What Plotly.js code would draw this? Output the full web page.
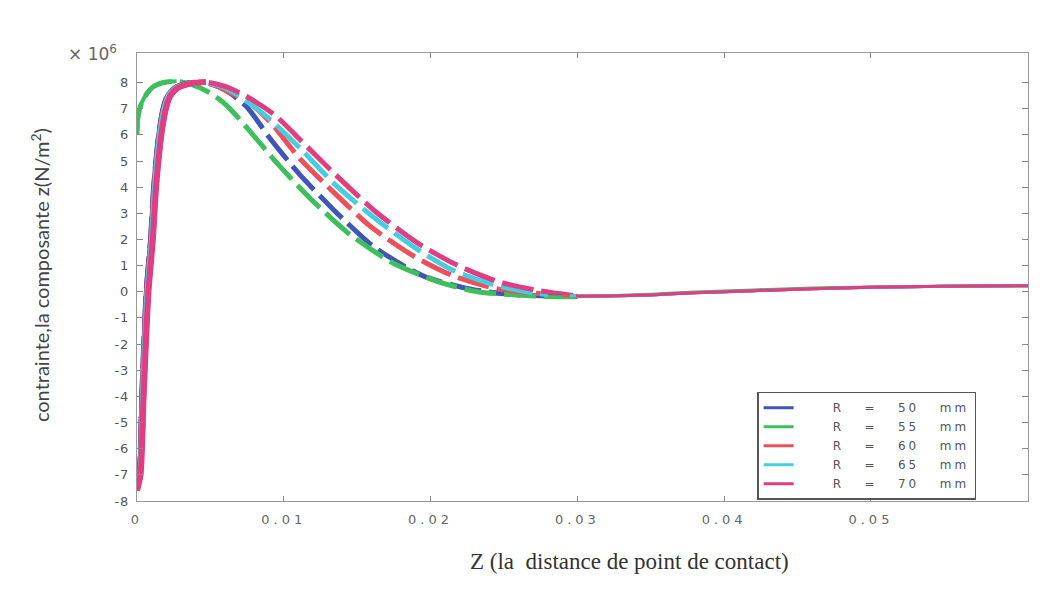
<!DOCTYPE html>
<html>
<head>
<meta charset="utf-8">
<script src="https://cdn.plot.ly/plotly-3.0.1.min.js"></script>
<style>
body{margin:0;background:#fff;}
.xtick text{letter-spacing:4px;}
.ytick text{letter-spacing:1px;}
.legendtext{letter-spacing:3px;}
</style>
</head>
<body>
<div id="chart" style="width:1062px;height:592px;"></div>
<script>
// Stress component z (x10^6 N/m^2) versus distance Z from contact point
const seriesNames = ["R = 50 mm", "R = 55 mm", "R = 60 mm", "R = 65 mm", "R = 70 mm"];
const seriesColors = ["#3f55b8", "#3dbf5c", "#ef4f58", "#45cde0", "#e23c82"];

const xR50 = [0, 0.00015, 0.00032, 0.00062, 0.00092, 0.00113, 0.00147, 0.00177, 0.00207, 0.00257, 0.0033, 0.0040, 0.0050, 0.0061, 0.0075, 0.0090, 0.0110, 0.0134, 0.0160, 0.0180, 0.0196, 0.0224, 0.0250, 0.0280, 0.0300, 0.0320, 0.0350, 0.0380, 0.0420, 0.0460, 0.0500, 0.0550, 0.0607];
const yR50 = [-7.5, -7.0, -4.0, 0.0, 2.0, 4.0, 6.0, 7.0, 7.5, 7.8, 7.97, 8.0, 7.95, 7.68, 7.06, 5.91, 4.54, 3.13, 1.78, 1.05, 0.58, 0.14, -0.08, -0.16, -0.18, -0.16, -0.12, -0.04, 0.04, 0.12, 0.17, 0.21, 0.23];

const xR55 = [0, 0.00007, 0.0003, 0.0007, 0.0011, 0.0018, 0.0027, 0.0036, 0.0049, 0.0061, 0.0076, 0.0096, 0.0118, 0.0144, 0.0174, 0.0205, 0.0232, 0.0256, 0.0280, 0.0300, 0.0320, 0.0350, 0.0380, 0.0420, 0.0460, 0.0500, 0.0550, 0.0607];
const yR55 = [6.0, 6.7, 7.2, 7.6, 7.84, 8.0, 8.05, 7.95, 7.63, 7.13, 6.20, 4.88, 3.57, 2.24, 1.11, 0.39, 0.0, -0.11, -0.18, -0.19, -0.15, -0.09, -0.01, 0.07, 0.14, 0.18, 0.21, 0.23];

const xR60 = [0, 0.00017, 0.00034, 0.00065, 0.00095, 0.00116, 0.0015, 0.0018, 0.0021, 0.0026, 0.0034, 0.0042, 0.0052, 0.0062, 0.0076, 0.0092, 0.0110, 0.0133, 0.0159, 0.0188, 0.0215, 0.0245, 0.0270, 0.0290, 0.0300, 0.0320, 0.0350, 0.0380, 0.0420, 0.0460, 0.0500, 0.0550, 0.0607];
const yR60 = [-7.5, -7.0, -4.0, 0.0, 2.0, 4.0, 6.0, 7.0, 7.5, 7.8, 7.97, 8.0, 7.92, 7.65, 7.25, 6.41, 5.15, 3.86, 2.50, 1.38, 0.62, 0.12, -0.05, -0.14, -0.17, -0.16, -0.12, -0.04, 0.04, 0.12, 0.17, 0.21, 0.23];

const xR65 = [0, 0.00018, 0.00036, 0.00067, 0.00097, 0.00118, 0.00152, 0.00183, 0.00213, 0.00263, 0.0035, 0.0044, 0.0055, 0.0068, 0.0089, 0.0111, 0.0135, 0.0161, 0.0190, 0.0215, 0.0245, 0.0273, 0.0295, 0.0320, 0.0350, 0.0380, 0.0420, 0.0460, 0.0500, 0.0550, 0.0607];
const yR65 = [-7.5, -7.0, -4.0, 0.0, 2.0, 4.0, 6.0, 7.0, 7.5, 7.8, 7.97, 8.0, 7.9, 7.55, 6.67, 5.49, 4.10, 2.86, 1.66, 0.83, 0.24, -0.07, -0.15, -0.16, -0.12, -0.04, 0.04, 0.12, 0.17, 0.21, 0.23];

const xR70 = [0, 0.00024, 0.00045, 0.00078, 0.00108, 0.0013, 0.00166, 0.00197, 0.00228, 0.0028, 0.0037, 0.0047, 0.0060, 0.0074, 0.0094, 0.0111, 0.0135, 0.0162, 0.0191, 0.0218, 0.0246, 0.0273, 0.0299, 0.0320, 0.0350, 0.0380, 0.0420, 0.0460, 0.0500, 0.0550, 0.0607];
const yR70 = [-7.6, -7.0, -4.0, 0.0, 2.0, 4.0, 6.0, 7.0, 7.5, 7.8, 7.97, 8.02, 7.85, 7.49, 6.75, 5.82, 4.49, 3.09, 1.87, 1.02, 0.39, 0.05, -0.16, -0.16, -0.12, -0.04, 0.04, 0.12, 0.17, 0.21, 0.23];

const xTickVals = [0, 0.01, 0.02, 0.03, 0.04, 0.05];
const xTickText = ["0", "0.01", "0.02", "0.03", "0.04", "0.05"];
const yTickVals = [-8, -7, -6, -5, -4, -3, -2, -1, 0, 1, 2, 3, 4, 5, 6, 7, 8];
const yTickText = ["-8", "-7", "-6", "-5", "-4", "-3", "-2", "-1", "0", "1", "2", "3", "4", "5", "6", "7", "8"];

const xs = [xR50, xR55, xR60, xR65, xR70];
const ys = [yR50, yR55, yR60, yR65, yR70];
const riseWidths = [4.5, 4, 4.5, 4.5, 6];
const tailStart = 0.028;

const riseTraces = [], tailTraces = [], dashTraces = [];
for (let s = 0; s < xs.length; s++) {
  const x = xs[s], y = ys[s];
  let peakIdx = 0;
  for (let i = 0; i < y.length; i++) if (y[i] > y[peakIdx]) peakIdx = i;
  riseTraces.push({
    x: x, y: y.map((v, i) => i <= peakIdx ? v : null), type: 'scatter', mode: 'lines',
    name: seriesNames[s], connectgaps: false,
    line: {color: seriesColors[s], width: riseWidths[s], shape: 'spline', smoothing: 0.7},
    showlegend: false
  });
  tailTraces.push({
    x: x, y: y.map((v, i) => x[i] >= tailStart ? v : null), type: 'scatter', mode: 'lines',
    name: seriesNames[s], connectgaps: false,
    line: {color: seriesColors[s], width: 3, shape: 'spline', smoothing: 0.7},
    showlegend: false
  });
  dashTraces.push({
    x: x, y: y.map((v, i) => x[i] <= tailStart + 0.002 ? v : null), type: 'scatter', mode: 'lines',
    name: seriesNames[s], connectgaps: false,
    line: {color: seriesColors[s], width: 5, shape: 'spline', smoothing: 0.7, dash: '32px,8px'},
    showlegend: false
  });
}
// legend entries for the series, shown with a plain line
const legendTraces = seriesNames.map((n, s) => ({
  x: [null], y: [null], type: 'scatter', mode: 'lines',
  name: '\u00a0\u00a0\u00a0\u00a0\u00a0' + n.replace(/ /g, '\u00a0\u00a0\u00a0'),
  line: {color: seriesColors[s], width: 3}, showlegend: true
}));

const gray = '#666';
const layout = {
  width: 1062, height: 592,
  margin: {l: 137, r: 34, t: 53, b: 91},
  paper_bgcolor: '#ffffff', plot_bgcolor: '#ffffff',
  showlegend: true,
  xaxis: {
    range: [0, 0.0607], tickmode: 'array', tickvals: xTickVals, ticktext: xTickText,
    ticks: 'inside', ticklen: 5, tickcolor: '#888', showline: true, linecolor: '#999', linewidth: 1,
    mirror: 'ticks', showgrid: false, zeroline: false, ticklabelstandoff: 6,
    tickfont: {family: 'DejaVu Sans', size: 13, color: gray}
  },
  yaxis: {
    range: [-8, 9.13], tickmode: 'array', tickvals: yTickVals, ticktext: yTickText,
    ticks: 'inside', ticklen: 6, tickcolor: '#888', showline: true, linecolor: '#999', linewidth: 1,
    mirror: 'ticks', showgrid: false, zeroline: false, ticklabelstandoff: 4,
    tickfont: {family: 'DejaVu Sans', size: 13, color: '#555'}
  },
  legend: {
    x: 0.696, y: 0.244, xanchor: 'left', yanchor: 'top',
    bgcolor: '#ffffff', bordercolor: '#555', borderwidth: 1.5,
    font: {family: 'DejaVu Sans', size: 12, color: '#555'},
    traceorder: 'normal', tracegroupgap: 0, itemwidth: 30
  },
  annotations: [
    {text: '× 10<sup>6</sup>', xref: 'paper', yref: 'paper', x: -0.02, y: 1.0,
     xanchor: 'right', yanchor: 'middle', showarrow: false,
     font: {family: 'DejaVu Sans', size: 17, color: gray}},
    {text: 'contrainte,la composante z(N/m<sup>2</sup>)', xref: 'paper', yref: 'paper',
     x: -0.109, y: 0.504, xanchor: 'center', yanchor: 'middle', textangle: -90, showarrow: false,
     font: {family: 'Lato', size: 20, color: '#444'}},
    {text: 'Z (la  distance de point de contact)', xref: 'paper', yref: 'paper',
     x: 0.553, y: -0.136, xanchor: 'center', yanchor: 'middle', showarrow: false,
     font: {family: 'Liberation Serif', size: 23, color: '#333'}}
  ]
};

Plotly.newPlot('chart', dashTraces.concat(tailTraces, riseTraces, legendTraces), layout, {displayModeBar: false, staticPlot: true});
</script>
</body>
</html>
